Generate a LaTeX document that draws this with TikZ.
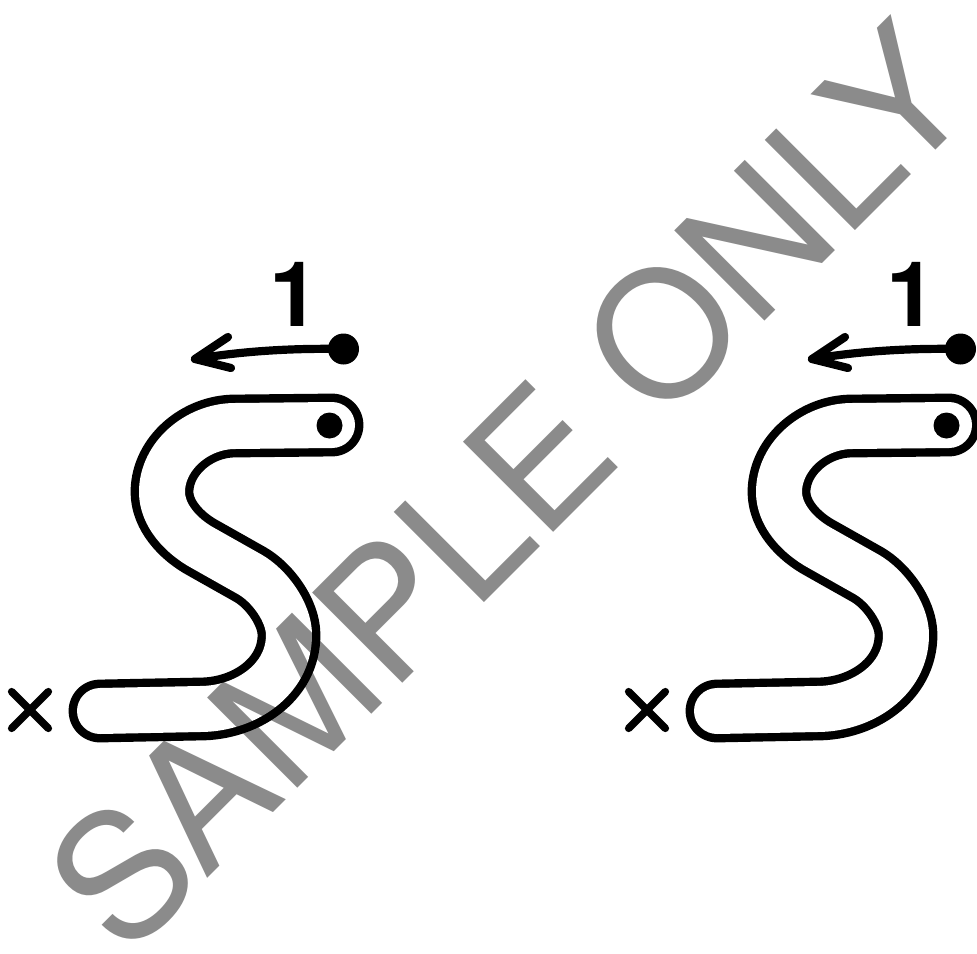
\documentclass[tikz,border=0pt]{standalone}
\usepackage{fontspec}
\setmainfont{TeX Gyre Heros}
\usetikzlibrary{shapes.misc}
\definecolor{wmgray}{RGB}{139,139,139}
\newcommand\tracepath{(332,425) -- (235,426) .. controls (197,426) and (162,456) .. (162,492) .. controls (162,515) and (181,536) .. (203,548) -- (250,574.5) .. controls (269,585.3) and (289,612) .. (289,635) .. controls (289,680) and (245,709) .. (200,709) -- (100,711)}
\begin{document}
\begin{tikzpicture}[x=1pt,y=-1pt,
  tubeout/.style={draw=black,line width=62.8pt,line cap=round,line join=round},
  tubein/.style={draw=white,line width=46pt,line cap=round,line join=round},
  startdot/.style={circle,fill=black,inner sep=0pt,minimum size=31pt},
  innerdot/.style={circle,fill=black,inner sep=0pt,minimum size=26pt},
  arrowline/.style={draw=black,line width=8.2pt,line cap=round,line join=round},
  endmark/.style={cross out,draw=black,line width=7.5pt,line cap=round,inner sep=0pt,minimum size=29.2pt},
  numlabel/.style={anchor=base west,inner sep=0pt,font=\fontsize{90.5}{90.5}\selectfont\bfseries},
  watermark/.style={anchor=base,inner sep=0pt,rotate=45,text=wmgray,font=\fontsize{175}{175}\selectfont},
  tracing/.pic={
    \draw[tubeout] \tracepath;
    \draw[tubein] \tracepath;
    \node[innerdot] (-in) at (329.5,425.5) {};
    \node[startdot] (-start) at (343.5,349) {};
    \coordinate (-tip) at (195,359);
    \draw[arrowline] (-start.center) .. controls (290,348) and (241,351.4) .. (-tip);
    \draw[arrowline] ([shift={(33,-22)}]-tip) -- (-tip) -- ([shift={(36,9)}]-tip);
    \node[numlabel] (-num) at (268.8,326.7) {1};
    \node[endmark] (-end) at (30,710) {};
  }]
\useasboundingbox (0,0) rectangle (977,953);
\clip (0,0) rectangle (977,953);
\fill[white] (0,0) rectangle (977,953);
\pic (L) at (0,0) {tracing};
\pic (R) at (617,0) {tracing};
\begin{scope}[blend mode=multiply]
  \node[watermark] (wm) at (553.7,532.4) {SAMPLE ONLY};
\end{scope}
\end{tikzpicture}
\end{document}
